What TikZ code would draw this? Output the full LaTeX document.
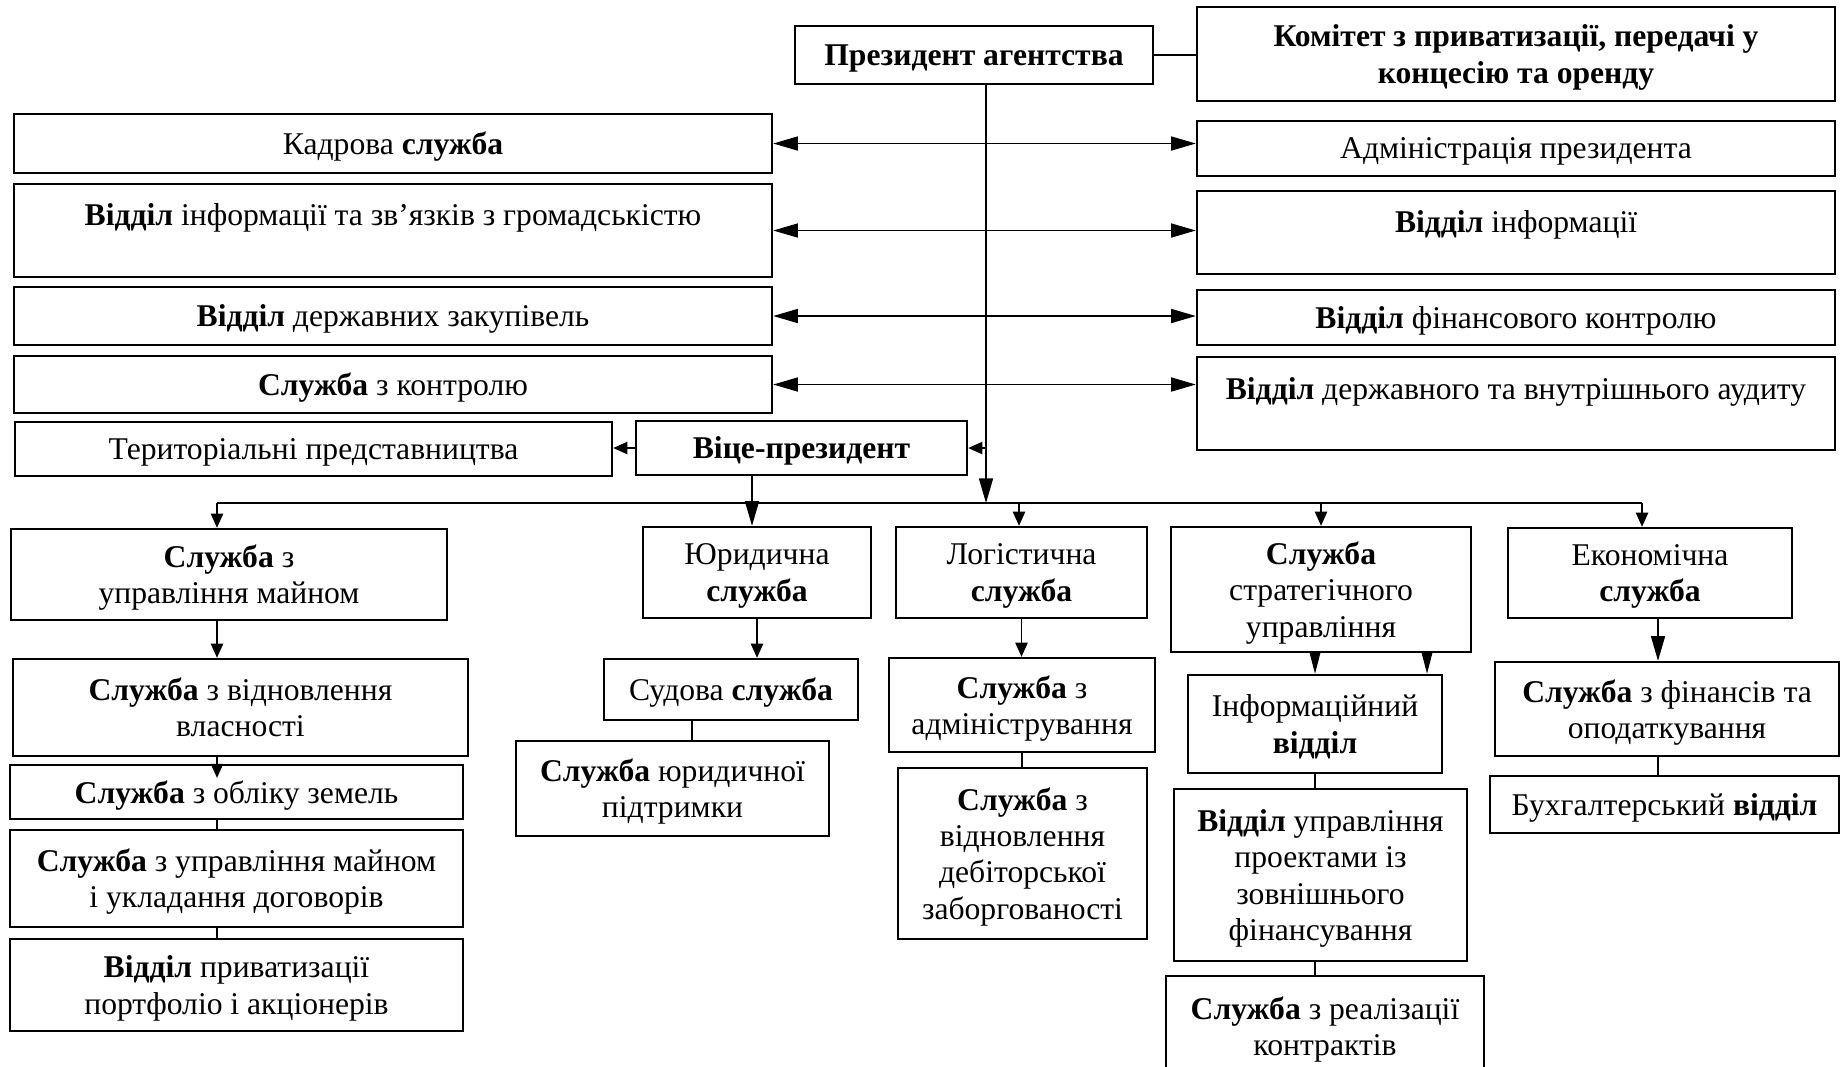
\documentclass[tikz,border=0pt]{standalone}
\usepackage{fontspec}
\setmainfont{Liberation Serif}
\usetikzlibrary{arrows.meta}

\begin{document}
\begin{tikzpicture}[x=0.1mm, y=-0.1mm,
  font=\fontsize{9}{10.3}\selectfont,
  box/.style={draw, line width=0.7pt, inner sep=0pt, align=center, text depth=0pt},
  low/.style={text depth=-1.5pt},
  line/.style={line width=0.35pt},
  arr/.style={line, -{Triangle[length=4pt,width=3.5pt]}},
  midarr/.style={line, -{Triangle[length=6pt,width=3pt]}},
  bigarr/.style={line, -{Triangle[length=7pt,width=4pt]}},
  dbl/.style={line, {Triangle[length=7pt,width=4pt]}-{Triangle[length=7pt,width=4pt]}}]

\useasboundingbox (0,0) rectangle (1841,1066);
\clip (0,0) rectangle (1841,1066);

% upper part
\node[box, minimum width=35.8mm, minimum height=5.8mm] (pres) at (974,55) {\textbf{Президент агентства}};
\node[box, minimum width=63.8mm, minimum height=9.4mm] (kom) at (1516,54)
  {\textbf{Комітет з приватизації, передачі у}\\\textbf{концесію та оренду}};

\node[box, minimum width=75.8mm, minimum height=5.9mm] (kadr) at (393,143.5) {Кадрова \textbf{служба}};
\node[box, minimum width=75.8mm, minimum height=9.3mm, text height=11.8pt, text depth=14.7pt] (infgr) at (393,230.5)
  {\textbf{Відділ} інформації та зв’язків з громадськістю};
\node[box, minimum width=75.8mm, minimum height=5.8mm] (zakup) at (393,316) {\textbf{Відділ} державних закупівель};
\node[box, minimum width=75.8mm, minimum height=5.7mm] (kontr) at (393,384.5) {\textbf{Служба} з контролю};
\node[box, low, minimum width=59.7mm, minimum height=5.4mm] (terr) at (313.5,449) {Територіальні представництва};
\node[box, low, minimum width=33.1mm, minimum height=5.4mm] (vp) at (801.5,448) {\textbf{Віце-президент}};

\node[box, minimum width=63.8mm, minimum height=5.5mm] (adm) at (1516,148.5) {Адміністрація президента};
\node[box, minimum width=63.8mm, minimum height=8.3mm, text height=11.7pt, text depth=11.9pt] (inf) at (1516,232.5)
  {\textbf{Відділ} інформації};
\node[box, minimum width=63.8mm, minimum height=5.5mm] (fink) at (1516,317.5) {\textbf{Відділ} фінансового контролю};
\node[box, minimum width=63.8mm, minimum height=9.3mm, text height=12pt, text depth=14.5pt] (audyt) at (1516,403.5)
  {\textbf{Відділ} державного та внутрішнього аудиту};

% services
\node[box, low, minimum width=43.6mm, minimum height=9.1mm] (mayno) at (229,574.5) {\textbf{Служба} з\\управління майном};
\node[box, low, minimum width=22.8mm, minimum height=9.1mm] (jur) at (757,572.5) {Юридична\\\textbf{служба}};
\node[box, low, minimum width=25.1mm, minimum height=9.1mm] (log) at (1021.5,572.5) {Логістична\\\textbf{служба}};
\node[box, low, minimum width=30mm, minimum height=12.5mm] (strat) at (1321,589.5) {\textbf{Служба}\\стратегічного\\управління};
\node[box, low, minimum width=28.4mm, minimum height=9mm] (ekon) at (1650,573) {Економічна\\\textbf{служба}};

\node[box, minimum width=45.5mm, minimum height=9.7mm] (vidn) at (240.5,707.5) {\textbf{Служба} з відновлення\\власності};
\node[box, low, minimum width=45.3mm, minimum height=5.4mm] (oblik) at (236.5,792) {\textbf{Служба} з обліку земель};
\node[box, minimum width=45.3mm, minimum height=9.7mm] (ukl) at (236.5,878.5) {\textbf{Служба} з управління майном\\і укладання договорів};
\node[box, low, minimum width=45.3mm, minimum height=9.2mm] (priv) at (236.5,985) {\textbf{Відділ} приватизації\\портфоліо і акціонерів};

\node[box, minimum width=25.4mm, minimum height=6.1mm] (sud) at (731,689.5) {Судова \textbf{служба}};
\node[box, minimum width=31.3mm, minimum height=9.5mm] (pidtr) at (672.5,788.5) {\textbf{Служба} юридичної\\підтримки};

\node[box, minimum width=26.6mm, minimum height=9.4mm] (admin) at (1022,705) {\textbf{Служба} з\\адміністрування};
\node[box, minimum width=24.9mm, minimum height=17.1mm] (debit) at (1022.5,853.5)
  {\textbf{Служба} з\\відновлення\\дебіторської\\заборгованості};

\node[box, minimum width=25.4mm, minimum height=9.8mm] (info) at (1315,724) {Інформаційний\\\textbf{відділ}};
\node[box, minimum width=29.3mm, minimum height=17.2mm] (proekt) at (1320.5,875)
  {\textbf{Відділ} управління\\проектами із\\зовнішнього\\фінансування};
\node[box, minimum width=31.8mm, minimum height=10mm] (real) at (1325,1026) {\textbf{Служба} з реалізації\\контрактів};

\node[box, minimum width=34.4mm, minimum height=9.4mm] (fin) at (1667,709) {\textbf{Служба} з фінансів та\\оподаткування};
\node[box, minimum width=34.9mm, minimum height=5.7mm] (bukh) at (1664.5,804.5) {Бухгалтерський \textbf{відділ}};

% trunk and bus
\coordinate (tr) at (986,503);
\coordinate (b1) at (217,503);
\coordinate (b2) at (752,503);
\coordinate (b3) at (1019,503);
\coordinate (b4) at (1321,503);
\coordinate (b5) at (1642,503);

\draw[line] (pres.east) -- (pres.east -| kom.west);
\draw[bigarr] (pres.south -| tr) -- (tr);

\draw[dbl] (kadr.east) -- (kadr.east -| adm.west);
\draw[dbl] (infgr.east) -- (infgr.east -| inf.west);
\draw[dbl] (zakup.east) -- (zakup.east -| fink.west);
\draw[dbl] (kontr.east) -- (kontr.east -| audyt.west);

\draw[arr] (vp.east -| tr) -- (vp.east);
\draw[arr] (vp.west) -- (vp.west -| terr.east);

\draw[line] (b1) -- (b5);
\draw[arr] (b1) -- (b1 |- mayno.north);
\draw[bigarr] (b2 |- vp.south) -- (b2 |- jur.north);
\draw[arr] (b3) -- (b3 |- log.north);
\draw[arr] (b4) -- (b4 |- strat.north);
\draw[arr] (b5) -- (b5 |- ekon.north);

% lower chains
\coordinate (c1) at (692,0);
\coordinate (c2) at (1427,0);
\coordinate (c3) at (1658,0);

\draw[arr] (b1 |- mayno.south) -- (b1 |- vidn.north);
\draw[arr] (b1 |- vidn.south) -- ([yshift=-4pt]b1 |- oblik.north);
\draw[line] (b1 |- oblik.south) -- (b1 |- ukl.north);
\draw[line] (b1 |- ukl.south) -- (b1 |- priv.north);

\draw[arr] (jur.south) -- (jur.south |- sud.north);
\draw[line] (c1 |- sud.south) -- (c1 |- pidtr.north);

\draw[arr] (log.south) -- (log.south |- admin.north);
\draw[line] (admin.south) -- (admin.south |- debit.north);

\draw[midarr] (info.north |- strat.south) -- (info.north);
\draw[midarr] (c2 |- strat.south) -- (c2 |- info.north);
\draw[line] (info.south) -- (info.south |- proekt.north);
\draw[line] (info.south |- proekt.south) -- (info.south |- real.north);

\draw[bigarr] (c3 |- ekon.south) -- (c3 |- fin.north);
\draw[line] (c3 |- fin.south) -- (c3 |- bukh.north);

\end{tikzpicture}
\end{document}
